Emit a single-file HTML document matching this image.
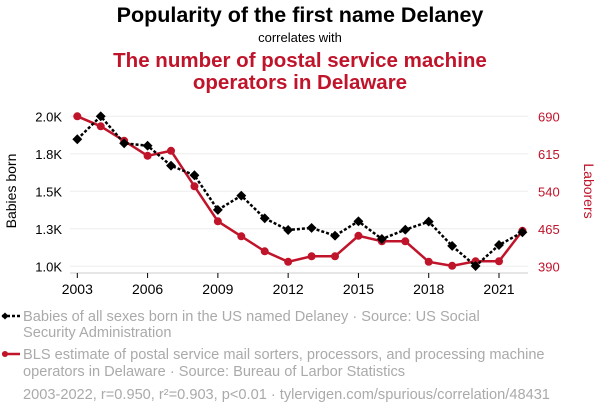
<!DOCTYPE html>
<html><head><meta charset="utf-8"><style>
body{margin:0;width:600px;height:414px;background:#fff;font-family:"Liberation Sans",sans-serif;overflow:hidden}
svg{position:absolute;left:0;top:0}
</style></head><body>
<svg width="600" height="414">
<text x="300" y="22" text-anchor="middle" font-size="21.5" font-weight="bold" fill="#000">Popularity of the first name Delaney</text>
<text x="300" y="42" text-anchor="middle" font-size="13" fill="#000">correlates with</text>
<text x="300" y="67" text-anchor="middle" font-size="20.5" font-weight="bold" fill="#c0142b">The number of postal service machine</text>
<text x="300" y="89" text-anchor="middle" font-size="20.5" font-weight="bold" fill="#c0142b">operators in Delaware</text>
<g id="grid"></g>
<line x1="70" y1="273" x2="528" y2="273" stroke="#ccc"/>
<g id="axes"></g>
<text transform="translate(16,191) rotate(-90)" text-anchor="middle" font-size="14" fill="#000">Babies born</text>
<text transform="translate(584,191) rotate(90)" text-anchor="middle" font-size="14" fill="#c0142b">Laborers</text>
<g id="series"></g>
<g>
<line x1="2" y1="316" x2="20" y2="316" stroke="#000" stroke-width="2.5" stroke-dasharray="3,2"/>
<rect x="2.5" y="313.5" width="5" height="5" transform="rotate(45 5 316)" fill="#000"/>
<text x="23" y="321" font-size="14.6" fill="#aaa">Babies of all sexes born in the US named Delaney · Source: US Social</text>
<text x="23" y="337" font-size="14.6" fill="#aaa">Security Administration</text>
<line x1="2" y1="354" x2="20" y2="354" stroke="#c0142b" stroke-width="2.5"/>
<circle cx="5" cy="354" r="3" fill="#c0142b"/>
<text x="23" y="359" font-size="14.6" fill="#aaa">BLS estimate of postal service mail sorters, processors, and processing machine</text>
<text x="23" y="376" font-size="14.6" fill="#aaa">operators in Delaware · Source: Bureau of Larbor Statistics</text>
<text x="23" y="399" font-size="14.6" fill="#aaa">2003-2022, r=0.950, r²=0.903, p&lt;0.01 · tylervigen.com/spurious/correlation/48431</text>
</g>
</svg>
<script>
const years=[2003,2004,2005,2006,2007,2008,2009,2010,2011,2012,2013,2014,2015,2016,2017,2018,2019,2020,2021,2022];
const babies=[1847,2000,1820,1804,1671,1607,1376,1471,1320,1242,1256,1204,1300,1182,1244,1298,1136,1002,1142,1227];
const laborers=[690,670,641,611,621,550,480,450,420,399,410,410,451,440,440,399,391,400,400,461];
const leftTicks=[1000,1250,1500,1750,2000];
const leftLabels=["1.0K","1.3K","1.5K","1.8K","2.0K"];
const rightTicks=[390,465,540,615,690];
const xTicks=[2003,2006,2009,2012,2015,2018,2021];
const NS="http://www.w3.org/2000/svg";
const x=y=>77.3+(y-2003)*(499-77.3)/18;
const yl=v=>266.3-(v-1000)/1000*150;
const yr=v=>266.3-(v-390)/300*150;
function mk(t,a,p){const e=document.createElementNS(NS,t);for(const k in a)e.setAttribute(k,a[k]);p.appendChild(e);return e;}
const grid=document.getElementById('grid'),axes=document.getElementById('axes'),ser=document.getElementById('series');
leftTicks.forEach((v,i)=>{
 const g=mk('line',{x1:70,x2:528,y1:yl(v),y2:yl(v),stroke:'#eee'},grid);
 
 
 const t=mk('text',{x:62,y:yl(v)+5,'text-anchor':'end','font-size':13,fill:'#000'},axes);t.textContent=leftLabels[i];
 
 
});
rightTicks.forEach(v=>{
 const t=mk('text',{x:538,y:yr(v)+5,'font-size':13,fill:'#c0142b'},axes);t.textContent=v;
 
 
});
xTicks.forEach(v=>{
 mk('line',{x1:x(v),x2:x(v),y1:273,y2:278,stroke:'#000'},axes);
 const t=mk('text',{x:x(v),y:294,'text-anchor':'middle','font-size':14,fill:'#000'},axes);t.textContent=v;
 
 
});
const rl=mk('polyline',{points:years.map((y,i)=>x(y)+','+yr(laborers[i])).join(' '),fill:'none',stroke:'#c0142b','stroke-width':2.5},ser);


years.forEach((y,i)=>{const c=mk('circle',{cx:x(y),cy:yr(laborers[i]),r:4,fill:'#c0142b'},ser);
 
 });
const bl=mk('polyline',{points:years.map((y,i)=>x(y)+','+yl(babies[i])).join(' '),fill:'none',stroke:'#000','stroke-width':2.5,'stroke-dasharray':'3,2'},ser);


years.forEach((y,i)=>{const cx=x(y),cy=yl(babies[i]);const d=mk('rect',{x:cx-3.5,y:cy-3.5,width:7,height:7,fill:'#000',transform:`rotate(45 ${cx} ${cy})`},ser);
 
 });
</script>
</body></html>
